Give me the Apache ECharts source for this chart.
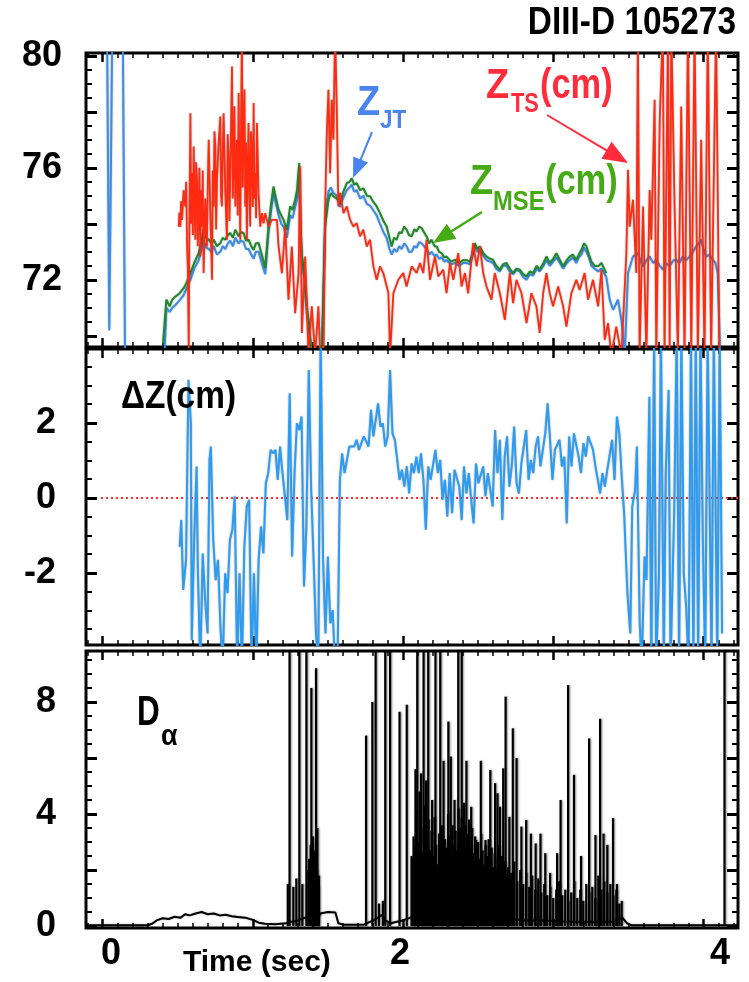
<!DOCTYPE html>
<html>
<head>
<meta charset="utf-8">
<script src="https://cdn.jsdelivr.net/npm/echarts@6/dist/echarts.min.js"></script>
<style>
  html, body { margin: 0; padding: 0; background: #fff; }
  #chart { width: 749px; height: 982px; }
</style>
</head>
<body>
<div id="chart"></div>
<script>
// ---------------- tick labels ----------------
const timeTickLabels = [0, 2, 4];
const zTickLabels = [72, 76, 80];
const dzTickLabels = [-2, 0, 2];
const daTickLabels = [0, 4, 8];

// ---------------- Z_JT (cm) ----------------
const zJtTime = [0.03, 0.045, 0.065, 0.135, 0.15, 0.41,
  0.425, 0.447, 0.465, 0.485, 0.51, 0.54, 0.56, 0.585, 0.61, 0.64, 0.655, 0.673, 0.69, 0.707,
  0.725, 0.74, 0.762, 0.784, 0.80, 0.817, 0.835, 0.85, 0.868, 0.884, 0.906, 0.92, 0.939, 0.955,
  0.972, 0.99, 1.006, 1.02, 1.039, 1.06, 1.083, 1.105, 1.12, 1.138, 1.155, 1.172, 1.19, 1.205,
  1.227, 1.238, 1.249, 1.265, 1.282, 1.295, 1.309, 1.318, 1.327, 1.345, 1.36, 1.375, 1.393, 1.46,
  1.482, 1.504, 1.52, 1.537, 1.56, 1.581, 1.60, 1.626, 1.645, 1.659, 1.675, 1.692, 1.715, 1.736,
  1.76, 1.781, 1.80, 1.825, 1.847, 1.87, 1.891, 1.91, 1.925, 1.94, 1.958, 1.975, 1.991, 2.008,
  2.024, 2.04, 2.058, 2.075, 2.091, 2.108, 2.124, 2.14, 2.157, 2.175, 2.19, 2.21, 2.224, 2.24,
  2.257, 2.275, 2.29, 2.32, 2.346, 2.375, 2.401, 2.425, 2.446, 2.46, 2.478, 2.495, 2.512, 2.535,
  2.556, 2.58, 2.6, 2.62, 2.645, 2.665, 2.689, 2.71, 2.733, 2.755, 2.778, 2.80, 2.822, 2.845,
  2.866, 2.89, 2.91, 2.935, 2.955, 2.977, 3.0, 3.021, 3.045, 3.066, 3.09, 3.11, 3.13, 3.154,
  3.17, 3.188, 3.205, 3.221, 3.238, 3.254, 3.275, 3.299, 3.321, 3.353,
  3.376, 3.398, 3.415, 3.431, 3.454, 3.476, 3.498, 3.531, 3.564, 3.58, 3.598, 3.62, 3.642, 3.665,
  3.686, 3.71, 3.73, 3.75, 3.774, 3.80, 3.819, 3.84, 3.863, 3.885, 3.907, 3.93, 3.951, 3.97,
  3.985, 4.0, 4.018, 4.04, 4.062, 4.08, 4.095, 4.111];
const zJtValue = [81, 70.2, 81, 81, 69, 69,
  71.0, 70.85, 71.0, 71.1, 71.25, 71.45, 71.7, 72.0, 72.4, 72.7, 73.0, 73.4, 73.15, 73.1,
  73.0, 73.2, 72.9, 73.0, 73.2, 73.1, 73.3, 73.4, 73.2, 73.5, 73.3, 73.4, 73.35, 73.1,
  73.1, 72.9, 72.75, 73.0, 73.0, 72.6, 72.2, 73.7, 74.4, 75.1, 74.7, 74.3, 74.0, 73.9,
  73.5, 73.9, 74.3, 74.2, 74.6, 74.9, 75.9, 73.8, 72.6, 72.0, 70.8, 70.2, 69.3, 69.3,
  74.2, 75.15, 75.3, 75.1, 75.0, 74.6, 74.9, 75.2, 75.3, 75.4, 75.15, 75.2, 74.9, 75.0,
  74.7, 74.65, 74.5, 74.3, 74.0, 73.7, 73.5, 73.1, 72.9, 73.1, 73.0, 73.2, 73.1, 73.3,
  73.2, 73.0, 73.0, 73.2, 73.15, 73.35, 73.3, 73.2, 73.1, 72.9, 73.0, 72.85, 72.9, 72.75,
  72.8, 72.65, 72.7, 72.55, 72.6, 72.5, 72.6, 72.6, 72.55, 72.8, 73.2, 73.0, 73.1, 72.85,
  72.7, 72.65, 72.6, 72.4, 72.3, 72.5, 72.5, 72.3, 72.2, 72.35, 72.3, 72.1, 72.0, 72.2,
  72.15, 72.4, 72.3, 72.5, 72.7, 72.5, 72.65, 72.8, 72.6, 72.4, 72.6, 72.7, 72.8, 72.6,
  72.8, 72.9, 73.15, 73.0, 72.8, 72.5, 72.4, 72.3, 72.4, 72.1,
  71.29, 70.93, 71.1, 71.29, 70.57, 69.3, 72.24, 72.83, 72.95, 72.7, 72.48, 72.7, 72.83, 72.6,
  72.71, 72.5, 72.36, 72.6, 72.48, 72.7, 72.71, 72.6, 72.83, 72.7, 72.83, 73.0, 73.19, 73.3,
  73.43, 73.1, 72.83, 72.9, 72.71, 72.6, 72.24, 69.3];

// ---------------- Z_MSE (cm) ----------------
const zMseTime = [0.403, 0.425, 0.447, 0.465, 0.485, 0.51, 0.54, 0.56, 0.585, 0.61, 0.64, 0.655,
  0.673, 0.69, 0.707, 0.725, 0.74, 0.762, 0.784, 0.80, 0.817, 0.835, 0.85, 0.868, 0.884, 0.906,
  0.92, 0.939, 0.955, 0.972, 0.99, 1.006, 1.02, 1.039, 1.06, 1.083, 1.105, 1.12, 1.138, 1.155,
  1.172, 1.19, 1.205, 1.227, 1.238, 1.249, 1.265, 1.282, 1.295, 1.309, 1.318, 1.327, 1.345, 1.36,
  1.375, 1.393, 1.46, 1.482, 1.504, 1.52, 1.537, 1.56, 1.581, 1.60, 1.626, 1.645, 1.659, 1.675,
  1.692, 1.715, 1.736, 1.76, 1.781, 1.80, 1.825, 1.847, 1.87, 1.891, 1.91, 1.925, 1.94, 1.958,
  1.975, 1.991, 2.008, 2.024, 2.04, 2.058, 2.075, 2.091, 2.108, 2.124, 2.14, 2.157, 2.175, 2.19,
  2.21, 2.224, 2.24, 2.257, 2.275, 2.29, 2.32, 2.346, 2.375, 2.401, 2.425, 2.446, 2.46, 2.478,
  2.495, 2.512, 2.535, 2.556, 2.58, 2.6, 2.62, 2.645, 2.665, 2.689, 2.71, 2.733, 2.755, 2.778,
  2.80, 2.822, 2.845, 2.866, 2.89, 2.91, 2.935, 2.955, 2.977, 3.0, 3.021, 3.045, 3.066, 3.09,
  3.11, 3.13, 3.154, 3.17, 3.188, 3.205, 3.221, 3.238, 3.254, 3.275, 3.299, 3.321, 3.353];
const zMseValue = [69.74, 71.29, 71.05, 71.3, 71.4, 71.5, 71.7, 71.9, 72.24, 72.6, 72.95, 73.3,
  73.79, 73.5, 73.43, 73.3, 73.43, 73.2, 73.31, 73.5, 73.43, 73.6, 73.67, 73.5, 73.79, 73.55,
  73.7, 73.67, 73.4, 73.43, 73.2, 73.07, 73.3, 73.31, 72.9, 72.42, 73.9, 74.6, 75.33, 74.9,
  74.5, 74.3, 74.14, 73.79, 74.2, 74.62, 74.5, 74.86, 75.2, 76.17, 74.0, 72.83, 72.3, 71.05,
  70.4, 69.3, 69.3, 73.9, 74.86, 75.1, 74.98, 74.9, 74.74, 75.1, 75.45, 75.5, 75.63, 75.4,
  75.45, 75.2, 75.27, 75.0, 74.98, 74.8, 74.62, 74.38, 74.1, 73.9, 73.5, 73.19, 73.5, 73.43,
  73.7, 73.67, 73.9, 73.79, 73.6, 73.55, 73.8, 73.73, 73.9, 73.85, 73.7, 73.55, 73.3, 73.43,
  73.2, 73.19, 73.0, 72.95, 72.8, 72.83, 72.65, 72.71, 72.6, 72.71, 72.7, 72.65, 72.9, 73.31,
  73.1, 73.19, 72.95, 72.83, 72.75, 72.71, 72.5, 72.36, 72.55, 72.6, 72.4, 72.24, 72.4, 72.36,
  72.2, 72.12, 72.3, 72.24, 72.5, 72.36, 72.6, 72.83, 72.6, 72.75, 72.95, 72.7, 72.48, 72.7,
  72.83, 72.9, 72.71, 72.9, 73.07, 73.3, 73.19, 72.9, 72.65, 72.5, 72.48, 72.6, 72.24];

// ---------------- Z_TS (cm) ----------------
const zTsTime = [0.507, 0.512, 0.518, 0.523, 0.529, 0.540, 0.551, 0.557, 0.563, 0.568, 0.574,
  0.579, 0.585, 0.590, 0.596, 0.601, 0.607, 0.612, 0.618, 0.623, 0.629, 0.634, 0.640, 0.645,
  0.651, 0.656, 0.662, 0.667, 0.673, 0.684, 0.695, 0.701, 0.707, 0.718, 0.729, 0.734, 0.740,
  0.745, 0.751, 0.756, 0.762, 0.773, 0.784, 0.789, 0.795, 0.800, 0.806, 0.817, 0.828, 0.833,
  0.839, 0.845, 0.850, 0.856, 0.862, 0.867, 0.873, 0.878, 0.884, 0.889, 0.895, 0.900, 0.906,
  0.911, 0.917, 0.922, 0.928, 0.933, 0.939, 0.945, 0.950, 0.955, 0.961, 0.966, 0.972, 0.977,
  0.983, 0.988, 0.994, 1.000, 1.006, 1.011, 1.017, 1.022, 1.028, 1.039,
  1.050, 1.061, 1.072, 1.083, 1.105, 1.127, 1.161,
  1.172, 1.194, 1.216, 1.238, 1.260, 1.282, 1.305, 1.316, 1.327, 1.349, 1.371, 1.393, 1.415,
  1.437, 1.449, 1.471, 1.482, 1.493, 1.504, 1.515, 1.526, 1.537, 1.548, 1.559, 1.570, 1.581,
  1.604, 1.626, 1.648, 1.670, 1.692, 1.714, 1.736, 1.759, 1.781, 1.803, 1.825, 1.847, 1.869,
  1.903, 1.914, 1.936, 1.969, 2.002, 2.024, 2.058, 2.091, 2.113, 2.135, 2.157, 2.180, 2.213,
  2.235, 2.268, 2.290, 2.313, 2.335, 2.368, 2.390, 2.412, 2.434, 2.467, 2.490, 2.512, 2.534,
  2.556, 2.589, 2.611, 2.645, 2.678, 2.711, 2.733, 2.755, 2.789, 2.822, 2.855, 2.888, 2.910,
  2.933, 2.955, 2.977, 2.999, 3.033, 3.066, 3.088, 3.121, 3.154, 3.176, 3.209, 3.232, 3.265,
  3.299, 3.321, 3.343, 3.365, 3.387, 3.420, 3.454, 3.487, 3.498, 3.509, 3.531, 3.553, 3.564,
  3.575, 3.598, 3.620, 3.642, 3.653, 3.675, 3.686, 3.709, 3.730, 3.741, 3.764, 3.775, 3.786,
  3.808, 3.830, 3.852, 3.874, 3.897, 3.919, 3.941, 3.963, 3.985, 4.007, 4.029, 4.051, 4.084,
  4.106];
const zTsValue = [73.9, 74.4, 73.9, 74.8, 74.14, 75.2, 74.62, 75.5, 73.19, 72.4, 69.5,
  74.5, 77.95, 74.0, 75.81, 73.6, 76.76, 74.8, 73.43, 76.2, 75.57, 73.2, 74.38, 76.0,
  72.83, 75.2, 73.9, 75.9, 72.24, 74.9, 73.19, 75.5, 77.0, 74.3, 72.0, 75.9, 74.62,
  77.3, 76.76, 73.8, 75.57, 76.9, 77.83, 75.0, 74.62, 76.5, 77.95, 75.2, 73.43, 77.2,
  76.4, 74.1, 75.81, 77.6, 79.62, 74.9, 76.4, 78.2, 74.62, 76.1, 77.0, 74.3, 78.67,
  76.0, 73.43, 77.5, 81, 75.3, 77.0, 78.8, 74.62, 76.9, 73.43, 75.8, 77.6, 75.2,
  73.9, 77.3, 76.4, 74.6, 78.31, 74.9, 75.81, 74.2, 77.6, 75.0,
  73.9, 74.38, 74.02, 74.38, 73.9, 74.14, 74.14,
  73.19, 72.24, 73.9, 71.29, 73.19, 70.81, 72.24, 76.05, 70.1, 72.83, 69.3, 71.05, 69.3,
  71.05, 69.3, 69.3, 74.62, 77.24, 78.79, 75.81, 78.43, 77.0, 81, 78.19, 74.62, 75.1,
  74.38, 74.62, 74.14, 73.9, 74.02, 73.55, 73.79, 73.19, 73.43, 72.48, 72.0, 72.48, 72.24,
  71.52, 69.3, 71.52, 72.0, 72.24, 71.76, 72.48, 72.24, 72.6, 72.24, 73.43, 72.0, 72.83,
  72.12, 72.36, 71.52, 72.6, 72.0, 72.95, 71.76, 72.24, 71.52, 73.31, 72.48, 73.19, 72.24,
  71.76, 71.29, 72.24, 71.52, 70.57, 72.24, 71.17, 72.0, 71.52, 70.45, 71.52, 71.05, 70.1,
  71.52, 72.24, 71.52, 71.05, 71.76, 71.05, 70.33, 71.52, 72.0, 71.64, 72.24, 71.29, 72.0,
  71.05, 72.36, 69.86, 70.45, 69.3, 70.33, 69.3, 72.95, 75.93, 73.9, 74.86, 72.24, 81,
  69.3, 74.62, 69.3, 75.21, 73.43, 78.43, 69.3, 77.71, 81, 69.3, 81, 69.3, 81,
  74.62, 69.3, 78.19, 69.3, 81, 69.3, 81, 69.3, 77.0, 69.3, 81, 69.3, 81,
  69.3];

// ---------------- ΔZ (cm) ----------------
const dzTime = [0.514, 0.524, 0.537, 0.556, 0.572, 0.588, 0.594, 0.610, 0.626, 0.635, 0.651,
  0.667, 0.683, 0.699, 0.712, 0.721, 0.737, 0.753, 0.769, 0.785, 0.800, 0.816, 0.832, 0.848,
  0.864, 0.880, 0.896, 0.912, 0.928, 0.944, 0.960, 0.976, 0.992, 1.008, 1.024, 1.039, 1.055,
  1.071, 1.087, 1.103, 1.119, 1.135, 1.151, 1.166, 1.182, 1.198, 1.214, 1.230, 1.246, 1.262,
  1.278, 1.294, 1.310, 1.325, 1.341, 1.357, 1.373, 1.389, 1.405, 1.421, 1.436, 1.452, 1.468,
  1.484, 1.500, 1.516, 1.532, 1.548, 1.564, 1.580, 1.595, 1.611, 1.627, 1.643, 1.675, 1.691,
  1.707, 1.739, 1.771, 1.787, 1.803, 1.834, 1.850, 1.866, 1.882, 1.898, 1.914, 1.930, 1.946,
  1.962, 1.977, 1.993, 2.009, 2.025, 2.041, 2.057, 2.073, 2.089, 2.105, 2.120, 2.136, 2.152,
  2.168, 2.184, 2.216, 2.232, 2.248, 2.263, 2.279, 2.295, 2.311, 2.327, 2.343, 2.375, 2.391,
  2.406, 2.422, 2.438, 2.454, 2.470, 2.486, 2.502, 2.534, 2.549, 2.565, 2.597, 2.613, 2.629,
  2.645, 2.661, 2.677, 2.693, 2.708, 2.724, 2.740, 2.756, 2.772, 2.788, 2.820, 2.836, 2.851,
  2.867, 2.883, 2.899, 2.915, 2.931, 2.947, 2.963, 2.979, 2.995, 3.011, 3.042, 3.058, 3.074,
  3.090, 3.106, 3.122, 3.138, 3.169, 3.185, 3.201, 3.217, 3.233, 3.265, 3.281, 3.297, 3.312,
  3.328, 3.344, 3.360, 3.392, 3.408, 3.424, 3.440, 3.456, 3.472, 3.481, 3.494, 3.513, 3.526,
  3.545, 3.557, 3.576, 3.589, 3.608, 3.621, 3.640, 3.653, 3.672, 3.685, 3.704, 3.717, 3.736,
  3.749, 3.768, 3.781, 3.806, 3.822, 3.838, 3.853, 3.869, 3.885, 3.901, 3.917, 3.933, 3.949,
  3.965, 3.980, 3.996, 4.012, 4.028, 4.054, 4.069, 4.092, 4.108, 4.124];
const dzValue = [-1.30, -0.59, -2.45, -1.65, 3.15, 1.99, -3.79, -1.12, 0.84, -2.01, -4.5,
  -1.48, -2.72, -3.61, 1.01, 1.37, -1.12, -2.19, -1.65, -3.43, -4.5, -2.01, -2.54, -1.12,
  -0.85, 0.04, -4.5, -2.01, -4.5, -1.30, -0.23, -0.05, -4.5, -2.01, -4.5, -1.65, -0.76,
  -1.48, 0.39, 0.66, 1.28, 1.19, 1.28, 0.48, 1.37, 0.66, 0.04, -0.59, 2.79, -1.56,
  0.66, 1.99, 1.81, 2.17, -2.36, -0.76, 3.41, 0.21, -1.65, -3.61, -4.5, 4.5, -1.65,
  -3.61, -1.56, -3.34, -2.99, -4.5, -4.5, 0.48, 1.19, 0.66, 1.01, 1.37, 1.37, 1.55,
  1.28, 1.64, 1.37, 2.35, 1.64, 2.52, 1.90, 1.99, 1.37, 1.64, 3.41, 1.72, 1.55,
  1.01, 0.48, 0.75, 0.30, 0.84, 0.12, 0.92, 0.66, 1.10, 0.66, 1.19, 0.48, -0.85,
  0.84, 0.48, 1.28, 0.66, 1.01, -0.05, 0.48, -0.50, 0.66, -0.41, 0.75, 0.30, -0.59,
  0.84, 0.12, 0.66, -0.05, -0.68, 0.92, 0.39, 0.84, 0.04, 0.66, -0.23, 1.81, 0.66,
  1.55, -0.59, 1.10, 1.64, 0.30, 0.84, 1.90, 0.39, 0.12, 0.92, 1.81, 0.48, 1.01,
  0.66, 1.37, 1.64, 0.84, 1.28, 1.72, 2.52, 1.55, 0.48, 1.28, 1.55, 0.84, 1.10,
  -0.68, 1.64, 0.84, 1.72, 1.10, 0.66, 1.46, 1.10, 1.64, 1.28, 0.84, 0.48, 0.12,
  0.66, 0.30, 0.75, 1.55, 0.48, 2.17, 1.72, 0.57, -0.41, -1.30, -2.54, -3.61, -0.23,
  0.21, 1.37, -3.34, -4.5, -1.56, -2.19, 2.70, -4.5, 4.5, -4.5, -2.01, 4.5, -4.5,
  0.66, 2.88, -4.5, -0.23, 4.5, -4.5, 4.5, -2.01, -2.9, -4.5, 4.5, -4.5, 4.5,
  -4.5, 4.5, -1.12, -4.5, 4.5, -4.5, 4.5, -4.5, 4.5, -3.61];
const zeroLineTime = [-0.01, 4.23];
const zeroLineValue = [0, 0];

// ---------------- D-alpha ----------------
const daBaseTime = [-0.11, 0.30, 0.33, 0.36, 0.40, 0.44, 0.48, 0.52, 0.55, 0.58, 0.62, 0.66,
  0.70, 0.74, 0.78, 0.82, 0.86, 0.90, 0.95, 1.00, 1.04, 1.08, 1.15, 1.22, 1.26, 1.30, 1.35,
  1.40, 1.43, 1.45, 1.50, 1.55, 1.57, 1.60, 1.74, 1.78, 1.82, 1.86, 1.88, 1.92, 1.96, 2.00,
  2.05, 2.10, 2.20, 2.30, 2.40, 2.50, 2.60, 2.70, 2.80, 2.90, 3.00, 3.10, 3.20, 3.30, 3.40,
  3.46, 3.49, 3.52, 4.23];
const daBaseValue = [0.03, 0.03, 0.08, 0.2, 0.28, 0.25, 0.33, 0.3, 0.42, 0.38, 0.45, 0.5,
  0.42, 0.45, 0.38, 0.4, 0.35, 0.32, 0.3, 0.22, 0.12, 0.08, 0.06, 0.1, 0.15, 0.2, 0.3,
  0.35, 0.2, 0.45, 0.5, 0.48, 0.1, 0.05, 0.05, 0.15, 0.25, 0.4, 0.2, 0.1, 0.15, 0.2,
  0.3, 0.35, 0.3, 0.35, 0.3, 0.25, 0.3, 0.25, 0.2, 0.2, 0.18, 0.15, 0.15, 0.15, 0.15,
  0.3, 0.1, 0.03, 0.03];
// isolated ELM spikes
const daSpikeTime = [1.233, 1.245, 1.27, 1.29, 1.31, 1.33, 1.357, 1.37, 1.39, 1.40, 1.41, 1.421,
  1.43, 1.44, 1.754, 1.796, 1.818, 1.84, 1.866, 1.882, 1.914, 1.977, 2.025, 2.057, 2.083, 2.095,
  2.12, 2.137, 2.153, 2.168, 2.194, 2.216, 2.248, 2.27, 2.302, 2.318, 2.343, 2.368, 2.391,
  2.406, 2.422, 2.454, 2.486, 2.518, 2.549, 2.581, 2.613, 2.629, 2.645, 2.667, 2.683, 2.708,
  2.731, 2.756, 2.788, 2.82, 2.851, 2.883, 2.915, 2.947, 2.979, 3.026, 3.049, 3.099, 3.138,
  3.185, 3.239, 3.281, 3.312, 3.335, 3.36, 3.398, 3.424, 3.456, 4.14];
const daSpikePeak = [1.5, 11, 1.4, 1.7, 11, 1.5, 11, 2.0, 8.5, 3.2, 2.6, 9.2,
  3.5, 1.8, 6.8, 8.0, 11, 0.8, 0.9, 11, 11, 7.65, 7.9, 2.5, 5.6, 11,
  5.45, 11, 5.2, 11, 4.5, 11, 11, 5.9, 7.3, 6.05, 4.5, 11, 11,
  4.4, 5.9, 4.26, 3.07, 5.9, 3.07, 5.57, 5.1, 4.74, 4.26, 5.63, 8.19, 3.9,
  7.06, 6.0, 3.55, 3.79, 3.3, 2.95, 3.3, 2.6, 1.9, 2.6, 4.5, 8.6, 5.4,
  2.5, 6.7, 3.25, 7.4, 3.3, 2.9, 3.85, 1.5, 0.9, 11];
// dense ELM bursts
const daForestTime = [1.375, 1.385, 1.395, 1.405, 1.415, 1.425, 1.435,
  2.06, 2.07, 2.08, 2.09, 2.10, 2.11, 2.12, 2.13, 2.14, 2.15, 2.16, 2.17, 2.18, 2.19, 2.20,
  2.21, 2.22, 2.23, 2.24, 2.25, 2.26, 2.27, 2.28, 2.29, 2.30, 2.31, 2.32, 2.33, 2.34, 2.35,
  2.36, 2.37, 2.38, 2.39, 2.40, 2.41, 2.42, 2.43, 2.44, 2.45, 2.46, 2.47, 2.48, 2.49, 2.50,
  2.51, 2.52, 2.53, 2.54, 2.55, 2.56, 2.57, 2.58, 2.59, 2.60, 2.61, 2.62, 2.63, 2.64, 2.65,
  2.66, 2.67, 2.68, 2.69, 2.70, 2.72, 2.74, 2.76, 2.78, 2.80, 2.82, 2.84, 2.86, 2.88, 2.90,
  2.92, 2.94, 2.96, 2.98, 3.00, 3.02, 3.04, 3.06, 3.08, 3.10, 3.12, 3.14, 3.16, 3.18, 3.20,
  3.22, 3.24, 3.26, 3.28, 3.30, 3.32, 3.34, 3.36, 3.38, 3.40, 3.42, 3.44];
const daForestPeak = [2.4, 2.9, 3.0, 2.7, 2.2, 2.0, 1.4,
  2.4, 3.2, 2.8, 4.1, 3.0, 4.8, 3.5, 2.6, 4.3, 3.1, 2.9, 3.8, 2.7, 3.4, 2.5,
  3.9, 2.9, 2.2, 3.3, 2.6, 3.6, 2.4, 3.1, 2.8, 4.0, 3.2, 2.5, 3.6, 2.9, 3.4,
  2.7, 4.2, 3.5, 3.9, 3.0, 3.6, 2.8, 3.3, 3.8, 2.9, 3.5, 2.6, 3.2, 2.5, 3.0,
  2.4, 3.3, 2.7, 2.2, 2.9, 2.5, 3.1, 2.3, 2.8, 2.1, 2.6, 2.0, 2.4, 2.9, 2.2,
  2.5, 1.9, 2.3, 1.8, 2.1, 1.9, 2.3, 1.6, 2.0, 1.5, 1.9, 1.4, 1.8, 1.3, 1.7,
  1.2, 1.5, 1.1, 1.4, 1.0, 1.3, 1.6, 1.1, 1.3, 0.9, 1.2, 1.6, 1.0, 1.3, 0.9,
  1.5, 1.2, 1.4, 1.0, 1.8, 1.3, 1.6, 1.2, 1.5, 1.1, 1.3, 0.8];

// ---------------- layout / styling ----------------
const FONT = '"Liberation Sans", Arial, Helvetica, sans-serif';
const grids = [
  { left: 86, top: 53, width: 652, height: 294 },
  { left: 86, top: 349, width: 652, height: 296 },
  { left: 86, top: 651, width: 652, height: 277 }
];
const xExtent = [-0.11, 4.23];
const yExtents = [[69.6, 80.1], [-3.92, 3.97], [-0.07, 9.82]];
const yLabels = [zTickLabels, dzTickLabels, daTickLabels];
const yLabelMargin = [24, 30, 30];

function ticks(lo, hi, step, skip) {
  const out = [];
  for (let k = Math.ceil(lo / step - 1e-9); k * step <= hi + 1e-9; k++) {
    const v = +(k * step).toFixed(6);
    if (skip && Math.abs(v / skip - Math.round(v / skip)) < 1e-6) continue;
    out.push(v);
  }
  return out;
}

function axis(gi, pos, ext, tickValues, len, width) {
  return {
    type: 'value', gridIndex: gi, position: pos, min: ext[0], max: ext[1],
    axisLine: { show: false, onZero: false }, splitLine: { show: false },
    axisTick: { show: true, inside: true, length: len, customValues: tickValues,
      lineStyle: { color: '#000', width: width } },
    axisLabel: { show: false }
  };
}

const labelFont = { color: '#000', fontSize: 36, fontWeight: 'bold', fontFamily: FONT };
const xAxes = [], yAxes = [];
grids.forEach((g, gi) => {
  const xMajor = ticks(xExtent[0], xExtent[1], 1);
  const xMinor = ticks(xExtent[0], xExtent[1], 0.1, 1);
  ['bottom', 'top'].forEach(pos => {
    const major = axis(gi, pos, xExtent, xMajor, 9, 2.5);
    if (gi === 2 && pos === 'bottom') {
      major.axisLabel = Object.assign({
        show: true, customValues: timeTickLabels, margin: 8,
        formatter: v => '{t' + v + '|' + v + '}',
        rich: {
          t0: Object.assign({ padding: [0, 0, 0, 17] }, labelFont),
          t2: Object.assign({ padding: [0, 6, 0, 0] }, labelFont),
          t4: Object.assign({ padding: [0, 0, 0, 33] }, labelFont)
        }
      }, labelFont);
    }
    xAxes.push(major);
    xAxes.push(axis(gi, pos, xExtent, xMinor, 5, 1.5));
  });
  const ext = yExtents[gi];
  const yMajor = ticks(ext[0], ext[1], 2);
  const yMinor = ticks(ext[0], ext[1], 0.5, 2);
  ['left', 'right'].forEach(pos => {
    const major = axis(gi, pos, ext, yMajor, 11, 3);
    if (pos === 'left') {
      major.axisLabel = Object.assign({
        show: true, customValues: yLabels[gi], margin: yLabelMargin[gi]
      }, labelFont);
    }
    yAxes.push(major);
    yAxes.push(axis(gi, pos, ext, yMinor, 6, 2));
  });
});

const pair = (t, v) => t.map((x, i) => [x, v[i]]);
const halo = { shadowColor: 'rgba(0,0,0,0.35)', shadowBlur: 2 };

function lineSeries(gi, data, color, width, extra) {
  return Object.assign({
    type: 'line', xAxisIndex: gi * 4, yAxisIndex: gi * 4, data: data,
    showSymbol: false, symbol: 'none', silent: true, animation: false,
    lineStyle: Object.assign({ color: color, width: width }, halo)
  }, extra || {});
}

const spikeData = pair(daSpikeTime, daSpikePeak).concat(pair(daForestTime, daForestPeak));

const series = [
  lineSeries(0, pair(zJtTime, zJtValue), '#3a8ee8', 2),
  lineSeries(0, pair(zMseTime, zMseValue), '#1f8a2a', 2),
  lineSeries(0, pair(zTsTime, zTsValue), '#ff2a10', 1.8),
  lineSeries(1, pair(zeroLineTime, zeroLineValue), '#ff2a2a', 2,
    { lineStyle: { color: '#ff2a2a', width: 2, type: [2, 3] } }),
  lineSeries(1, pair(dzTime, dzValue), '#2c9cf2', 2),
  lineSeries(2, pair(daBaseTime, daBaseValue), '#000', 2),
  {
    type: 'bar', xAxisIndex: 8, yAxisIndex: 8, data: spikeData, barWidth: 2.2,
    silent: true, animation: false,
    itemStyle: { color: '#000', shadowColor: 'rgba(0,0,0,0.45)', shadowBlur: 2, shadowOffsetX: 1 }
  }
];

// annotation helpers
function txt(s, x, y, size, color, scaleX, align) {
  return {
    type: 'text', x: x, y: y, scaleX: scaleX || 1, z: 100,
    style: { text: s, fill: color, font: 'bold ' + size + 'px ' + FONT,
      align: align || 'left', verticalAlign: 'middle' }
  };
}
function arrow(x1, y1, x2, y2, color, lw, headLen, headHalf) {
  const dx = x2 - x1, dy = y2 - y1, L = Math.hypot(dx, dy);
  const ux = dx / L, uy = dy / L;
  const bx = x2 - ux * headLen, by = y2 - uy * headLen;
  return [
    { type: 'line', z: 100, shape: { x1: x1, y1: y1, x2: bx + ux * 2, y2: by + uy * 2 },
      style: { stroke: color, lineWidth: lw } },
    { type: 'polygon', z: 100,
      shape: { points: [[x2, y2], [bx - uy * headHalf, by + ux * headHalf], [bx + uy * headHalf, by - ux * headHalf]] },
      style: { fill: color } }
  ];
}

const BLUE = '#4a84ee', RED = '#ff2d3c', GREEN = '#46aa14';
const graphic = [
  txt('DIII-D 105273', 736, 24, 38, '#000', 0.88, 'right'),
  txt('Time (sec)', 183, 963, 30, '#000', 1),
  txt('Z', 357, 103, 42, BLUE, 0.9),
  txt('JT', 380, 121, 25, BLUE, 0.9),
  txt('Z', 486, 86, 42, RED, 0.9),
  txt('TS', 511, 104, 28, RED, 0.78),
  txt('(cm)', 540, 86, 42, RED, 0.82),
  txt('Z', 470, 182, 42, GREEN, 0.9),
  txt('MSE', 493, 202, 28, GREEN, 0.85),
  txt('(cm)', 545, 182, 42, GREEN, 0.82),
  txt('ΔZ(cm)', 121, 398, 38, '#000', 0.88),
  txt('D', 137, 713, 42, '#000', 0.75),
  txt('α', 161, 737, 30, '#000', 0.9)
].concat(
  arrow(372, 132, 353, 178, BLUE, 2, 20, 8),
  arrow(547, 115, 628, 163, RED, 2, 25, 10),
  arrow(482, 212, 433, 243, GREEN, 2.5, 22, 9)
);

const chart = echarts.init(document.getElementById('chart'), null, { renderer: 'canvas' });
chart.setOption({
  animation: false,
  backgroundColor: '#fff',
  grid: grids.map(g => Object.assign({
    show: true, borderColor: '#000', borderWidth: 3, backgroundColor: 'rgba(0,0,0,0)',
    containLabel: false, outerBoundsMode: 'none'
  }, g)),
  xAxis: xAxes,
  yAxis: yAxes,
  series: series,
  graphic: graphic
});
</script>
</body>
</html>
